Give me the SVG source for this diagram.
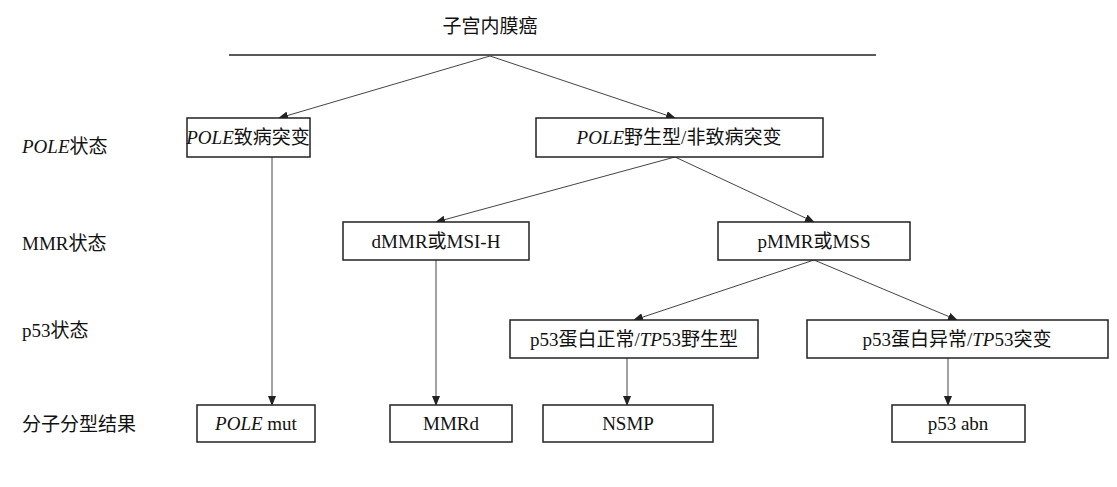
<svg xmlns="http://www.w3.org/2000/svg" width="1117" height="487" viewBox="0 0 1117 487">
<defs><marker id="a" markerWidth="10" markerHeight="8" refX="9" refY="4" orient="auto" markerUnits="userSpaceOnUse"><path d="M0,0 L10,4 L0,8 z" fill="#222"/></marker></defs>
<style>
text{font-family:"Liberation Serif","Noto Sans CJK SC",serif;font-size:19px;fill:#111}
.c{text-anchor:middle}
rect{fill:#fff;stroke:#222;stroke-width:1.5}
.l line{stroke:#444;stroke-width:1;marker-end:url(#a)}
</style>
<rect x="0" y="0" width="1117" height="487" style="fill:#fff;stroke:none"/>
<text x="490" y="33" class="c">子宫内膜癌</text>
<line x1="229" y1="55" x2="876" y2="55" stroke="#222" stroke-width="1.5"/>
<text x="22" y="153"><tspan font-style="italic">POLE</tspan>状态</text>
<text x="22" y="250">MMR状态</text>
<text x="22" y="337">p53状态</text>
<text x="22" y="431">分子分型结果</text>
<g class="l" id="connectors">
<line x1="490" y1="56" x2="279" y2="118"/>
<line x1="490" y1="56" x2="675" y2="118"/>
<line x1="675" y1="157" x2="436" y2="222"/>
<line x1="675" y1="157" x2="814" y2="222"/>
<line x1="814" y1="260" x2="634" y2="320"/>
<line x1="814" y1="260" x2="957" y2="320"/>
<line x1="272" y1="157" x2="272" y2="405"/>
<line x1="436" y1="260" x2="436" y2="405"/>
<line x1="627" y1="358" x2="627" y2="405"/>
<line x1="948" y1="358" x2="948" y2="405"/>
</g>
<g id="n1"><rect x="187" y="118" width="123" height="39"/><text x="248" y="144" class="c"><tspan font-style="italic">POLE</tspan>致病突变</text></g>
<g id="n2"><rect x="536" y="118" width="287" height="39"/><text x="679" y="144" class="c"><tspan font-style="italic">POLE</tspan>野生型/非致病突变</text></g>
<g id="n3"><rect x="343" y="222" width="186" height="38"/><text x="436" y="248" class="c">dMMR或MSI-H</text></g>
<g id="n4"><rect x="718" y="222" width="192" height="38"/><text x="814" y="248" class="c">pMMR或MSS</text></g>
<g id="n5"><rect x="510" y="320" width="248" height="38"/><text x="634" y="346" class="c">p53蛋白正常/<tspan font-style="italic">TP</tspan>53野生型</text></g>
<g id="n6"><rect x="807" y="320" width="301" height="38"/><text x="957" y="346" class="c">p53蛋白异常/<tspan font-style="italic">TP</tspan>53突变</text></g>
<g id="n7"><rect x="197" y="405" width="118" height="37"/><text x="256" y="430" class="c"><tspan font-style="italic">POLE</tspan> mut</text></g>
<g id="n8"><rect x="390" y="405" width="122" height="37"/><text x="451" y="430" class="c">MMRd</text></g>
<g id="n9"><rect x="543" y="405" width="170" height="37"/><text x="628" y="430" class="c">NSMP</text></g>
<g id="n10"><rect x="892" y="405" width="133" height="37"/><text x="958" y="430" class="c">p53 abn</text></g>
</svg>
